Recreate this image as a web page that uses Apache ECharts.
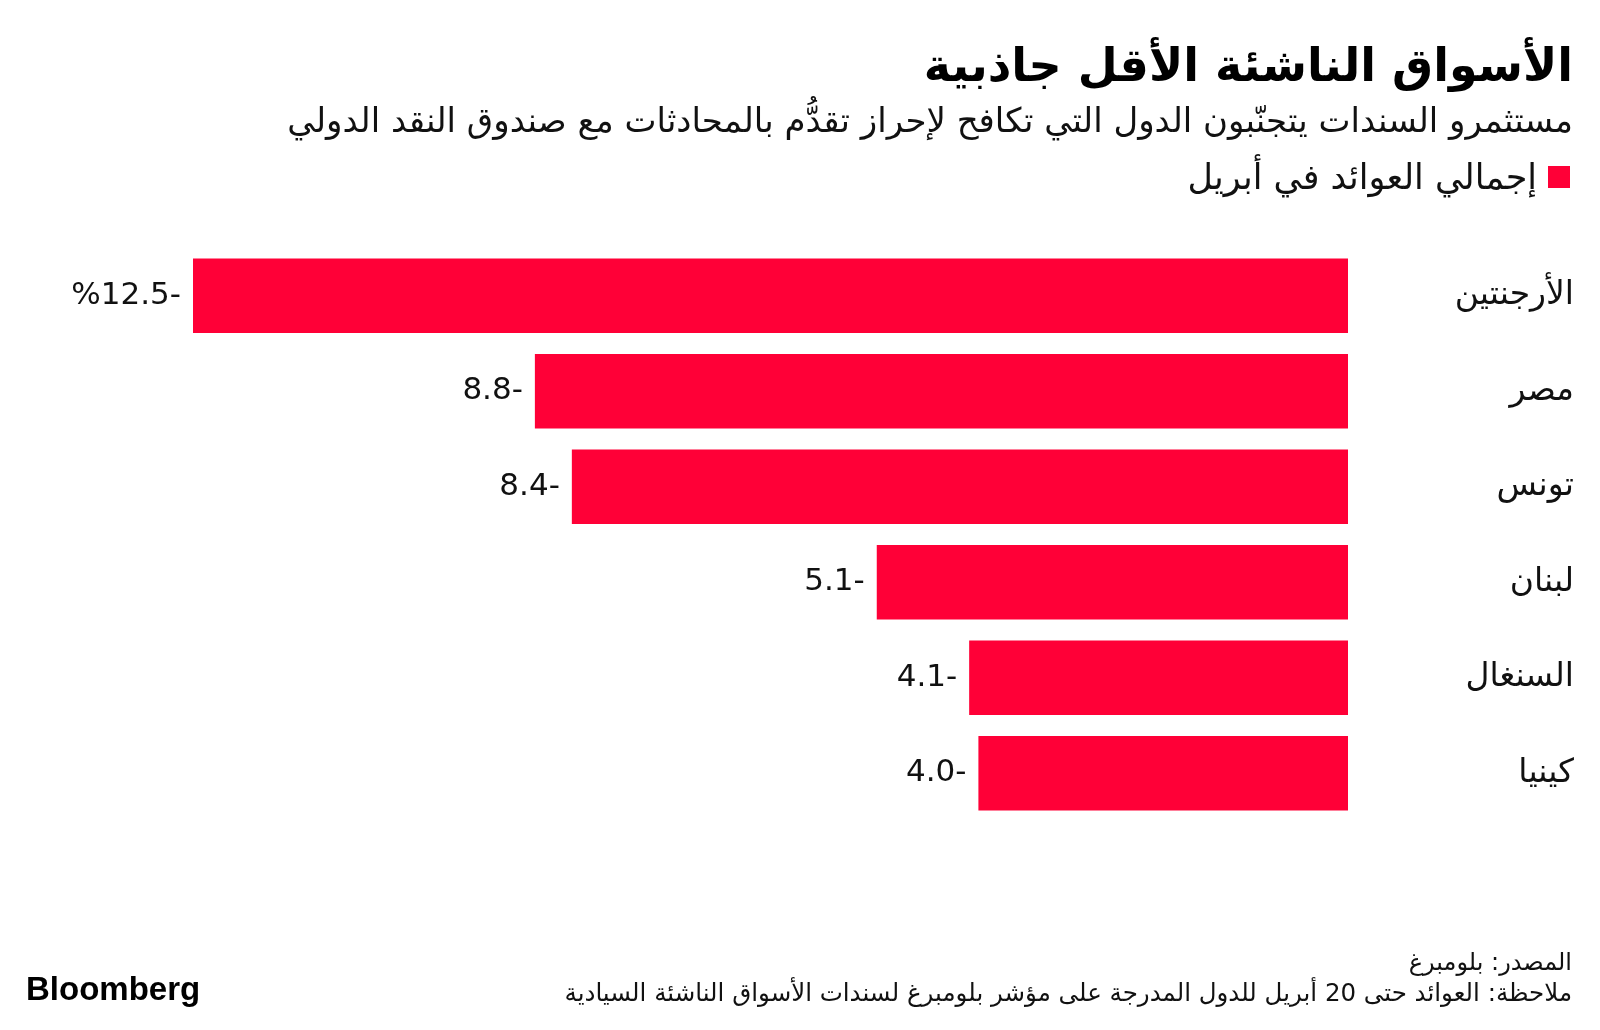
<!DOCTYPE html>
<html>
<head>
<meta charset="utf-8">
<script src="https://cdn.jsdelivr.net/npm/echarts@6/dist/echarts.min.js"></script>
<style>
html,body{margin:0;padding:0;background:#fff;}
#chart{width:1600px;height:1030px;}
</style>
</head>
<body>
<div id="chart"></div>
<script>
const categories = ['الأرجنتين', 'مصر', 'تونس', 'لبنان', 'السنغال', 'كينيا'];
const returnsApril = [-12.5, -8.8, -8.4, -5.1, -4.1, -4.0];
const titleText = 'الأسواق الناشئة الأقل جاذبية';
const subtitleText = 'مستثمرو السندات يتجنّبون الدول التي تكافح لإحراز تقدُّم بالمحادثات مع صندوق النقد الدولي';
const legendText = 'إجمالي العوائد في أبريل';
const sourceText = 'المصدر: بلومبرغ';
const noteText = 'ملاحظة: العوائد حتى 20 أبريل للدول المدرجة على مؤشر بلومبرغ لسندات الأسواق الناشئة السيادية';

const RED = '#ff0037';
const FONT = '"DejaVu Sans", "Noto Sans", sans-serif';

const chart = echarts.init(document.getElementById('chart'), null, {renderer: 'canvas'});
chart.setOption({
  backgroundColor: '#ffffff',
  animation: false,
  grid: {left: 193, right: 252, top: 248, height: 573, containLabel: false},
  xAxis: {
    type: 'value', min: -12.5, max: 0,
    show: false
  },
  yAxis: {
    type: 'category', data: categories, inverse: true, position: 'right',
    axisLine: {show: false}, axisTick: {show: false}, splitLine: {show: false},
    axisLabel: {
      align: 'right', margin: 226,
      fontFamily: FONT, fontSize: 33, color: '#111'
    }
  },
  series: [{
    type: 'bar',
    name: legendText,
    data: returnsApril,
    barCategoryGap: '22%',
    itemStyle: {color: RED},
    label: {
      show: true, position: 'left', distance: 12,
      fontFamily: FONT, fontSize: 31, color: '#111',
      formatter: p => (p.dataIndex === 0 ? '%' : '') + Math.abs(p.value).toFixed(1) + '-'
    }
  }],
  graphic: [
    {type: 'text', x: 1573, y: 69, style: {text: titleText, font: 'bold 46px ' + FONT, fill: '#000', align: 'right', verticalAlign: 'middle'}},
    {type: 'text', x: 1573, y: 123, style: {text: subtitleText, font: '34px ' + FONT, fill: '#111', align: 'right', verticalAlign: 'middle'}},
    {type: 'rect', shape: {x: 1548, y: 166, width: 22, height: 22}, style: {fill: RED}},
    {type: 'text', x: 1537, y: 180, style: {text: legendText, font: '35px ' + FONT, fill: '#111', align: 'right', verticalAlign: 'middle'}},
    {type: 'text', x: 1572, y: 964, style: {text: sourceText, font: '24px ' + FONT, fill: '#111', align: 'right', verticalAlign: 'middle'}},
    {type: 'text', x: 1572, y: 995, style: {text: noteText, font: '24.5px ' + FONT, fill: '#111', align: 'right', verticalAlign: 'middle'}},
    {type: 'text', x: 26, y: 991, style: {text: 'Bloomberg', font: 'bold 33px "Liberation Sans", Arial, sans-serif', fill: '#000', align: 'left', verticalAlign: 'middle'}}
  ]
});
</script>
</body>
</html>
